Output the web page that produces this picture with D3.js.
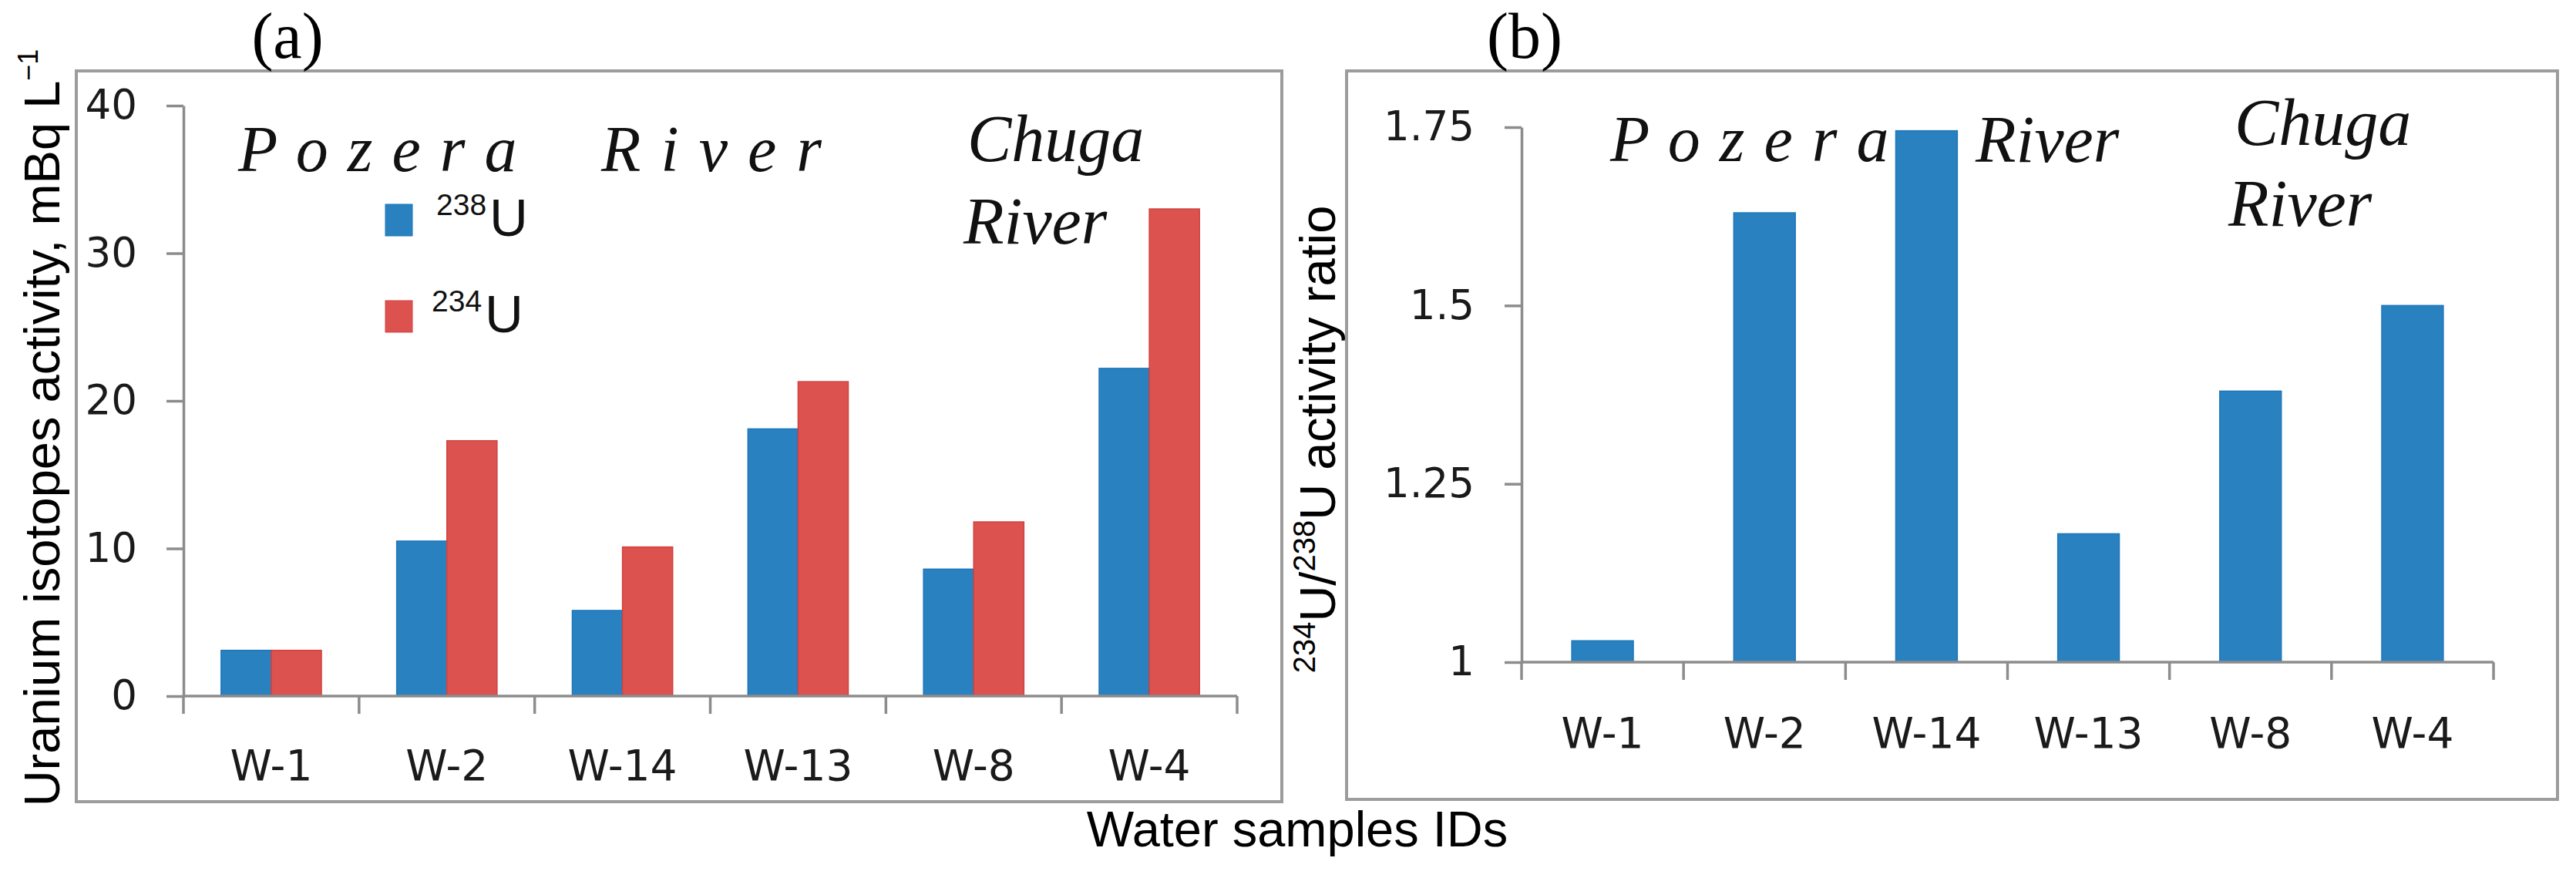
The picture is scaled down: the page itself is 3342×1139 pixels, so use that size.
<!DOCTYPE html>
<html>
<head>
<meta charset="utf-8">
<script src="https://cdn.jsdelivr.net/npm/d3@7"></script>
<style>
  body { margin: 0; background: #fff; }
  svg { display: block; }
</style>
</head>
<body>
<div id="chart"></div>
<script>
// values
var samples = ["W-1", "W-2", "W-14", "W-13", "W-8", "W-4"];
var u238 = [3.1, 10.5, 5.8, 18.1, 8.6, 22.2];
var u234 = [3.1, 17.3, 10.1, 21.3, 11.8, 33.0];
var ratio = [1.03, 1.63, 1.745, 1.18, 1.38, 1.5];
var isotopes = ["238", "234"];
var ticksA = [0, 10, 20, 30, 40];
var ticksB = [1, 1.25, 1.5, 1.75];

var svgWidth = 3342;
var svgHeight = 1139;

var blue = "#2981c0", blueEdge = "#1d76ba";
var red = "#dc524f", redEdge = "#d2413e";
var axisGray = "#8c8c8c";
var frameGray = "#9c9c9c";
var tickFont = "'DejaVu Sans', Verdana, sans-serif";
var labelFont = "'Liberation Sans', Arial, sans-serif";
var serifFont = "'Liberation Serif', 'Times New Roman', serif";

var svg = d3.select("#chart")
  .append("svg")
  .attr("width", svgWidth)
  .attr("height", svgHeight);

svg.append("rect")
  .attr("width", svgWidth)
  .attr("height", svgHeight)
  .attr("fill", "#fff");

// ---------- helpers ----------
function frame(x0, y0, x1, y1) {
  svg.append("rect")
    .attr("x", x0).attr("y", y0)
    .attr("width", x1 - x0).attr("height", y1 - y0)
    .attr("fill", "none")
    .attr("stroke", frameGray)
    .attr("stroke-width", 4);
}

function yAxis(scale, x, ticks, pad) {
  var g = svg.append("g")
    .attr("transform", `translate(${x}, 0)`)
    .call(d3.axisLeft(scale)
      .tickValues(ticks)
      .tickFormat(d => d)
      .tickSize(22)
      .tickSizeOuter(0)
      .tickPadding(pad));
  g.select(".domain").attr("stroke", axisGray).attr("stroke-width", 3.5);
  g.selectAll(".tick line").attr("stroke", axisGray).attr("stroke-width", 3.5);
  g.selectAll(".tick text")
    .attr("fill", "#1a1a1a")
    .attr("font-family", tickFont)
    .attr("font-size", 53);
  return g;
}

function xAxis(scale, y, labelOffset) {
  var g = svg.append("g")
    .attr("transform", `translate(0, ${y})`)
    .call(d3.axisBottom(scale).tickSize(0).tickSizeOuter(0));
  g.select(".domain").remove();
  g.selectAll(".tick text")
    .attr("y", labelOffset)
    .attr("dy", 0)
    .attr("fill", "#1a1a1a")
    .attr("font-family", tickFont)
    .attr("font-size", 55);

  var r = scale.range();
  g.append("line")
    .attr("x1", r[0]).attr("x2", r[1])
    .attr("y1", 0).attr("y2", 0)
    .attr("stroke", axisGray)
    .attr("stroke-width", 3.5);

  // ticks sit on the category boundaries
  var bounds = scale.domain().map(d => scale(d) - scale.step() * scale.paddingOuter());
  bounds.push(r[1]);
  g.selectAll(".bound")
    .data(bounds)
    .enter()
    .append("line")
    .attr("class", "bound")
    .attr("x1", d => d).attr("x2", d => d)
    .attr("y1", 0).attr("y2", 23)
    .attr("stroke", axisGray)
    .attr("stroke-width", 3.5);
  return g;
}

function italicText(str, x, y, size, spacing) {
  svg.append("text")
    .attr("x", x).attr("y", y)
    .attr("font-family", serifFont)
    .attr("font-style", "italic")
    .attr("font-size", size)
    .attr("letter-spacing", spacing || 0)
    .attr("fill", "#111")
    .text(str);
}

// ---------- panel (a) ----------
frame(99, 92, 1663, 1040);

var xA = d3.scaleBand().domain(samples).range([238, 1605]);
var xA1 = d3.scaleBand().domain(isotopes).range([0, xA.bandwidth()]).paddingOuter(0.75);
var yA = d3.scaleLinear().domain([0, 40]).range([903, 137]);
var colorA = d3.scaleOrdinal().domain(isotopes).range([blue, red]);
var edgeA = d3.scaleOrdinal().domain(isotopes).range([blueEdge, redEdge]);

var rowsA = samples.map(function(s, i) {
  return { id: s, vals: [{ iso: "238", v: u238[i] }, { iso: "234", v: u234[i] }] };
});

var groupsA = svg.selectAll(".groupA")
  .data(rowsA)
  .enter()
  .append("g")
  .attr("class", "groupA")
  .attr("transform", d => `translate(${xA(d.id)}, 0)`);

groupsA.selectAll("rect")
  .data(d => d.vals)
  .enter()
  .append("rect")
  .attr("x", d => xA1(d.iso))
  .attr("width", xA1.bandwidth())
  .attr("y", d => yA(d.v))
  .attr("height", d => yA(0) - yA(d.v))
  .attr("fill", d => colorA(d.iso))
  .attr("stroke", d => edgeA(d.iso))
  .attr("stroke-width", 1.5);

yAxis(yA, 238, ticksA, 38);
xAxis(xA, yA(0), 109);

// legend
var legend = svg.selectAll(".legendA")
  .data(isotopes)
  .enter()
  .append("g")
  .attr("class", "legendA")
  .attr("transform", (d, i) => `translate(500, ${265 + i * 125})`);

legend.append("rect")
  .attr("width", 35)
  .attr("height", 41)
  .attr("fill", d => colorA(d))
  .attr("stroke", d => edgeA(d))
  .attr("stroke-width", 1);

var legendText = legend.append("text")
  .attr("x", (d, i) => i === 0 ? 66 : 60)
  .attr("y", 41)
  .attr("font-family", labelFont)
  .attr("fill", "#111");
legendText.append("tspan")
  .attr("font-size", 39)
  .attr("dy", -27)
  .text(d => d);
legendText.append("tspan")
  .attr("font-size", 69)
  .attr("dy", 27)
  .attr("dx", 4)
  .text("U");

// river names
italicText("P o z e r a", 309, 222, 84, 2);
italicText("R i v e r", 780, 222, 84, 2.5);
italicText("Chuga", 1255, 209, 86);
italicText("River", 1250, 316, 86);

// axis title
var titleA = svg.append("text")
  .attr("transform", "translate(77, 555) rotate(-90)")
  .attr("text-anchor", "middle")
  .attr("font-family", labelFont)
  .attr("font-size", 65)
  .attr("fill", "#000");
titleA.append("tspan").text("Uranium isotopes activity, mBq L");
titleA.append("tspan")
  .attr("font-size", 36)
  .attr("dy", -28)
  .text("\u22121");

svg.append("text")
  .attr("x", 373).attr("y", 75)
  .attr("text-anchor", "middle")
  .attr("font-family", serifFont)
  .attr("font-size", 84)
  .attr("fill", "#000")
  .text("(a)");

// ---------- panel (b) ----------
frame(1747, 92, 3318, 1037);

var xB = d3.scaleBand().domain(samples).range([1974, 3235]).paddingInner(0.62).paddingOuter(0.31);
var yB = d3.scaleLinear().domain([1, 1.75]).range([859, 165]);

var rowsB = samples.map((s, i) => ({ id: s, v: ratio[i] }));

svg.selectAll(".barB")
  .data(rowsB)
  .enter()
  .append("rect")
  .attr("class", "barB")
  .attr("x", d => xB(d.id))
  .attr("width", xB.bandwidth())
  .attr("y", d => yB(d.v))
  .attr("height", d => yB(1) - yB(d.v))
  .attr("fill", blue)
  .attr("stroke", blueEdge)
  .attr("stroke-width", 1.5);

yAxis(yB, 1974, ticksB, 39);
xAxis(xB, yB(1), 111);

italicText("P o z e r a", 2089, 209, 84, 2);
italicText("River", 2563, 210, 86);
italicText("Chuga", 2899, 188, 86);
italicText("River", 2891, 293, 86);

var titleB = svg.append("text")
  .attr("transform", "translate(1732, 570) rotate(-90)")
  .attr("text-anchor", "middle")
  .attr("font-family", labelFont)
  .attr("font-size", 65)
  .attr("fill", "#000");
titleB.append("tspan").attr("font-size", 40).attr("dy", -26).text("234");
titleB.append("tspan").attr("dy", 26).text("U/");
titleB.append("tspan").attr("font-size", 40).attr("dy", -26).text("238");
titleB.append("tspan").attr("dy", 26).text("U activity ratio");

svg.append("text")
  .attr("x", 1978).attr("y", 75)
  .attr("text-anchor", "middle")
  .attr("font-family", serifFont)
  .attr("font-size", 84)
  .attr("fill", "#000")
  .text("(b)");

// shared x title
svg.append("text")
  .attr("x", 1683).attr("y", 1098)
  .attr("text-anchor", "middle")
  .attr("font-family", labelFont)
  .attr("font-size", 65)
  .attr("fill", "#000")
  .text("Water samples IDs");
</script>
</body>
</html>
